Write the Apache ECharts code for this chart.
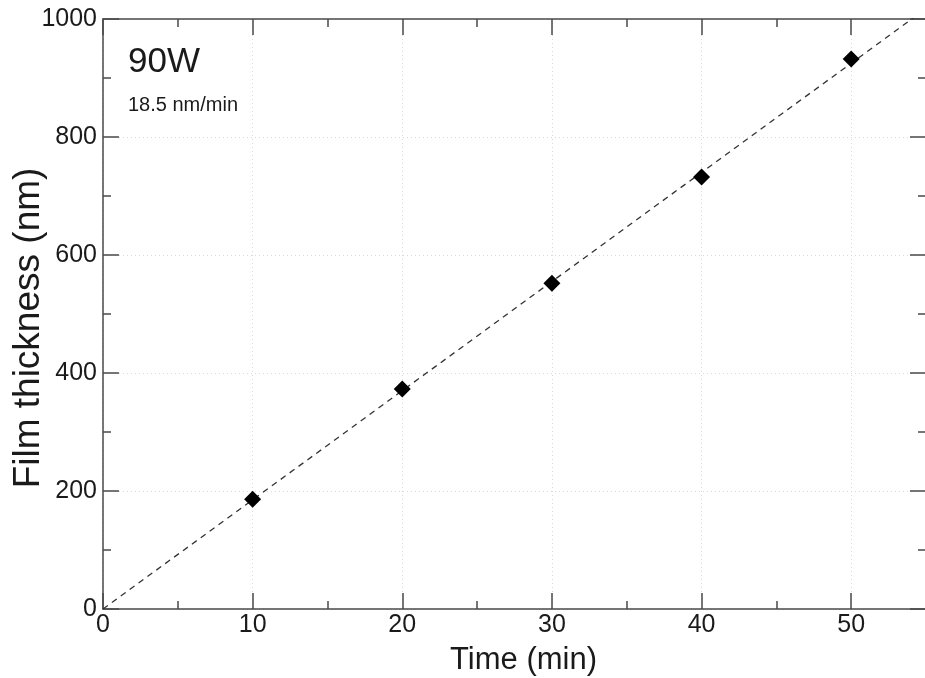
<!DOCTYPE html>
<html>
<head>
<meta charset="utf-8">
<script src="https://cdn.jsdelivr.net/npm/echarts@6/dist/echarts.min.js"></script>
<style>
  html, body { margin: 0; padding: 0; background: #fff; }
  #chart { width: 925px; height: 678px; }
</style>
</head>
<body>
<div id="chart"></div>
<script>
// Deposition time (min) and measured film thickness (nm) at 90 W
const timeMin = [10, 20, 30, 40, 50];
const thicknessNm = [186, 373, 552, 732, 932];
// Linear deposition rate through the origin (nm/min)
const rateNmPerMin = 18.5;
const powerLabel = '90W';
const rateLabel = rateNmPerMin + ' nm/min';

const xRange = [0, 55];
const yRange = [0, 1000];

const points = timeMin.map((t, i) => [t, thicknessNm[i]]);
const fitLine = xRange.map(t => [t, t * rateNmPerMin]);

const FONT = '"Liberation Sans", Arial, Helvetica, sans-serif';
const AXIS_COLOR = '#4a4a4a';
const TEXT_COLOR = '#1a1a1a';

function frameAxis(base, extra) {
  return Object.assign({
    axisLine: { show: true, onZero: false, lineStyle: { color: AXIS_COLOR, width: 1.5 } },
    axisTick: { show: true, inside: true, length: 16, lineStyle: { color: AXIS_COLOR, width: 1.5 } },
    minorTick: { show: true, splitNumber: 2, length: 8, lineStyle: { color: AXIS_COLOR, width: 1.5 } },
    splitLine: { show: false },
    minorSplitLine: { show: false }
  }, base, extra);
}

const chart = echarts.init(document.getElementById('chart'), null, { renderer: 'canvas' });

chart.setOption({
  animation: false,
  backgroundColor: '#ffffff',
  grid: { left: 103, right: -1, top: 19, bottom: 69, containLabel: false, outerBoundsMode: 'none' },
  xAxis: [
    frameAxis({ type: 'value', min: xRange[0], max: xRange[1], interval: 10, position: 'bottom' }, {
      name: 'Time (min)',
      nameLocation: 'middle',
      nameGap: 36,
      nameMoveOverlap: false,
      nameTextStyle: { fontFamily: FONT, fontSize: 31, color: TEXT_COLOR, padding: [0, 0, 0, 18] },
      axisLabel: { fontFamily: FONT, fontSize: 25, color: TEXT_COLOR, margin: 4, showMaxLabel: false },
      splitLine: { show: true, lineStyle: { color: '#d9d9d9', type: [1, 3], width: 1 } }
    }),
    frameAxis({ type: 'value', min: xRange[0], max: xRange[1], interval: 10, position: 'top' }, {
      axisLabel: { show: false }
    })
  ],
  yAxis: [
    frameAxis({ type: 'value', min: yRange[0], max: yRange[1], interval: 200, position: 'left' }, {
      name: 'Film thickness (nm)',
      nameLocation: 'middle',
      nameGap: 56,
      nameMoveOverlap: false,
      nameTextStyle: { fontFamily: FONT, fontSize: 37, color: TEXT_COLOR, padding: [0, 28, 0, 0] },
      axisLabel: { fontFamily: FONT, fontSize: 25, color: TEXT_COLOR, margin: 6, formatter: v => String(v) },
      splitLine: { show: true, lineStyle: { color: '#d9d9d9', type: [1, 3], width: 1 } }
    }),
    frameAxis({ type: 'value', min: yRange[0], max: yRange[1], interval: 200, position: 'right' }, {
      axisLabel: { show: false }
    })
  ],
  graphic: [
    {
      type: 'text', left: 128, top: 45,
      style: { text: powerLabel, fontFamily: FONT, fontSize: 35, fill: TEXT_COLOR }
    },
    {
      type: 'text', left: 128, top: 95,
      style: { text: rateLabel, fontFamily: FONT, fontSize: 20, fill: TEXT_COLOR }
    }
  ],
  series: [
    {
      type: 'line',
      data: fitLine,
      xAxisIndex: 0, yAxisIndex: 0,
      showSymbol: false,
      clip: true,
      lineStyle: { color: '#333333', width: 1.3, type: [6, 5] },
      z: 2
    },
    {
      type: 'scatter',
      data: points,
      xAxisIndex: 0, yAxisIndex: 0,
      symbol: 'diamond',
      symbolSize: 17,
      itemStyle: { color: '#000000', opacity: 1 },
      z: 3
    }
  ]
});
</script>
</body>
</html>
